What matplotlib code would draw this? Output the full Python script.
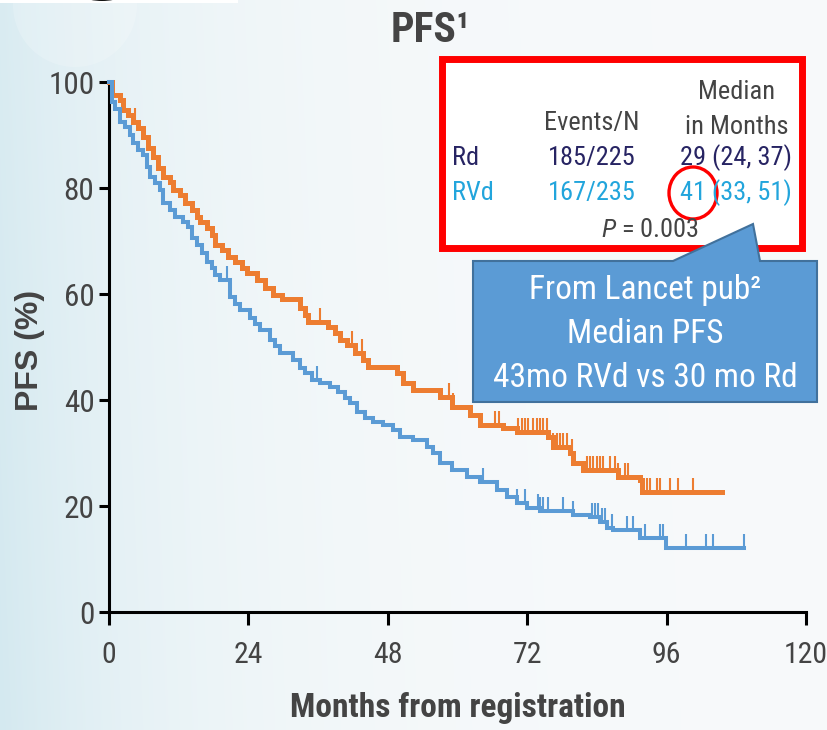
import numpy as np
import matplotlib
matplotlib.use("Agg")
import matplotlib.pyplot as plt
from matplotlib.patches import Rectangle, Polygon, Ellipse, Circle

NARROW = ["Roboto Condensed", "Liberation Sans Narrow", "Liberation Sans", "DejaVu Sans"]
plt.rcParams["font.family"] = NARROW
plt.rcParams["font.stretch"] = "condensed"
plt.rcParams["mathtext.fontset"] = "custom"
plt.rcParams["mathtext.rm"] = "Roboto Condensed"
plt.rcParams["mathtext.it"] = "Roboto Condensed:italic"

# ---- Kaplan-Meier step data (months, % progression-free) ----
rvd_t = [0, 0.5, 1.9, 2.4, 3.3, 4.1, 5.0, 5.9, 6.7, 7.6, 8.4, 9.3, 10.5, 11.0, 12.2,
         13.1, 14.3, 15.1, 15.7, 16.9, 17.7, 18.3, 19.5, 20.5, 21.7, 22.9, 23.8,
         25.5, 26.9, 28.2, 29.8, 32.9, 33.7, 34.3, 37.7, 38.9, 39.8, 40.9, 42.4,
         43.7, 44.6, 49.6, 50.6, 52.3, 57.0, 59.1, 62.2, 63.9, 67.8, 70.2, 75.6,
         76.4, 79.4, 79.9, 81.6, 87.6, 91.4, 91.8]
rvd_s = [100, 97.5, 96.6, 94.7, 93.8, 92.5, 91.3, 89.6, 87.5, 85.8, 83.8, 82.1, 81.1,
         79.6, 78.7, 77.2, 75.8, 74.5, 73.6, 72.4, 71.1, 69.2, 68.3, 67.0, 66.0, 64.9,
         64.0, 62.6, 61.1, 59.8, 59.1, 57.4, 56.0, 54.7, 53.8, 52.6, 51.3, 50.4, 48.9,
         47.5, 46.2, 45.1, 43.2, 41.9, 40.6, 38.7, 37.2, 35.3, 34.7, 34.0, 33.0, 31.1,
         30.0, 28.1, 26.8, 25.5, 24.9, 22.6]
rvd_end = 105.6
rvd_cens = [4.5, 36.3, 41.8, 43.6, 58.5, 59.2, 66.5, 67.1, 70.4, 71.1, 71.6, 72.1, 73.0,
            73.7, 74.2, 74.7, 75.4, 76.4, 77.1, 77.7, 78.2, 78.9, 79.7, 82.3, 82.8, 83.3,
            84.0, 84.5, 85.1, 86.3, 87.1, 87.6, 88.8, 89.4, 92.6, 93.1, 94.4, 94.9, 96.6,
            98.0, 100.6]

rd_t = [0, 0.5, 1.0, 1.9, 2.8, 3.6, 4.1, 5.0, 5.9, 6.5, 7.1, 7.9, 8.8, 9.3, 10.5, 11.4,
        12.7, 13.6, 14.3, 15.1, 16.0, 16.9, 17.7, 18.3, 19.1, 20.8, 21.7, 22.6, 24.3,
        25.2, 26.0, 27.7, 28.5, 29.4, 31.7, 32.9, 33.7, 35.0, 36.3, 38.1, 39.4, 40.6,
        41.5, 42.7, 44.1, 45.5, 47.2, 48.9, 50.1, 52.3, 54.8, 55.8, 57.0, 59.1, 61.6,
        63.9, 66.8, 68.5, 70.2, 72.0, 74.2, 79.9, 82.8, 84.5, 85.7, 86.8, 91.4, 95.9]
rd_s = [100, 96.2, 95.0, 92.5, 91.5, 90.0, 88.5, 87.2, 86.2, 84.0, 82.1, 80.9, 79.6, 77.2,
        75.8, 74.5, 73.6, 72.6, 70.6, 69.2, 67.7, 66.0, 64.9, 63.6, 62.6, 59.4, 58.2,
        57.0, 55.5, 54.3, 53.2, 51.3, 50.2, 48.9, 47.5, 46.0, 45.1, 43.8, 43.2, 42.5,
        41.5, 40.4, 39.4, 37.7, 36.6, 35.8, 35.3, 34.3, 33.0, 32.5, 31.1, 30.0, 28.1,
        26.8, 25.5, 24.5, 23.0, 21.7, 20.6, 19.6, 19.1, 18.3, 17.9, 17.0, 15.8, 15.5,
        14.0, 12.1]
rd_end = 109.3
rd_cens = [20.3, 35.8, 64.4, 70.2, 71.6, 73.9, 74.2, 74.7, 75.6, 78.2, 79.9, 83.2, 83.7,
           84.2, 84.9, 85.4, 86.6, 89.2, 90.2, 92.3, 94.9, 95.4, 99.3, 102.8, 104.0, 109.3]

x_ticks = [0, 24, 48, 72, 96, 120]
y_ticks = [0, 20, 40, 60, 80, 100]

ORANGE = "#ED7D31"
BLUE = "#5B9BD5"
GREY = "#444444"
NAVY = "#272463"
CYAN = "#22A5DC"

W, H = 827, 730
fig = plt.figure(figsize=(W / 100, H / 100), dpi=100)

# ---- soft slide background ----
bg = fig.add_axes([0, 0, 1, 1], zorder=0)
xx, yy = np.meshgrid(np.arange(W), np.arange(H))
left = np.array([212, 233, 240]) / 255.0
right = np.array([248, 250, 251]) / 255.0
w = np.exp(-xx / 190.0) * (0.85 + 0.15 * (yy / H))
img = right[None, None, :] * (1 - w[..., None]) + left[None, None, :] * w[..., None]
bg.imshow(img, extent=[0, W, H, 0], aspect="auto", interpolation="bilinear")
bg.add_patch(Circle((75, 5), 62, fc="white", ec="none", alpha=0.18))
bg.add_patch(Rectangle((0, 0), 238, 2.5, fc="white", ec="none"))
bg.add_patch(Ellipse((102, -14), 60, 30, fc="#111111", ec="none"))
bg.set_xlim(0, W)
bg.set_ylim(H, 0)
bg.axis("off")

# ---- survival plot ----
ax = fig.add_axes([109 / W, 1 - 612 / H, 697 / W, 530 / H], zorder=1)
ax.patch.set_visible(False)


def km(ax, t, s, end, cens, color, lw, tick_h=2.6):
    tt = list(t) + [end]
    ss = list(s) + [s[-1]]
    ax.step(tt, ss, where="post", color=color, lw=lw, solid_joinstyle="miter",
            clip_on=False, zorder=3)
    ta = np.asarray(t)
    sa = np.asarray(s)
    ct = np.asarray(cens)
    lev = sa[np.searchsorted(ta, ct, side="right") - 1]
    ax.vlines(ct, lev, lev + tick_h, color=color, lw=1.5, zorder=3, clip_on=False)


km(ax, rvd_t, rvd_s, rvd_end, rvd_cens, ORANGE, 3.6)
km(ax, rd_t, rd_s, rd_end, rd_cens, BLUE, 2.9)

ax.set_xlim(0, 120)
ax.set_ylim(0, 100)
ax.set_xticks(x_ticks)
ax.set_yticks(y_ticks)
for sp in ("top", "right"):
    ax.spines[sp].set_visible(False)
for sp in ("left", "bottom"):
    ax.spines[sp].set_linewidth(2.2)
    ax.spines[sp].set_color("black")
ax.tick_params(axis="x", direction="out", length=9, width=2.2, pad=12,
               labelsize=21.5, labelcolor=GREY)
ax.tick_params(axis="y", direction="out", length=7.5, width=2.2, pad=3,
               labelsize=22.5, labelcolor=GREY)

ax.set_xlabel("Months from registration", fontsize=24, fontweight="bold",
              color=GREY, va="center")
ax.xaxis.set_label_coords(0.5, -0.181)
ax.set_ylabel("PFS (%)", fontsize=23, fontweight="bold", color=GREY,
              va="center", family=["Liberation Sans", "DejaVu Sans"])
ax.yaxis.set_label_coords(-0.113, 0.494)

fig.text(430 / W, 1 - 30 / H, "PFS\u00b9", fontsize=30, fontweight="bold",
         color=GREY, ha="center", va="center")

# ---- summary table and callout ----
ov = fig.add_axes([0, 0, 1, 1], zorder=2)
ov.set_xlim(0, W)
ov.set_ylim(H, 0)
ov.axis("off")

ov.add_patch(Rectangle((441.5, 58.5), 360, 189, fc="white", ec="#FF0000", lw=5))

tk = dict(fontsize=19, va="center")
ov.text(737, 92, "Median", ha="center", color=GREY, **tk)
ov.text(737, 127, "in Months", ha="center", color=GREY, **tk)
ov.text(592, 123, "Events/N", ha="center", color=GREY, **tk)
ov.text(452, 158, "Rd", ha="left", color=NAVY, **tk)
ov.text(592, 158, "185/225", ha="center", color=NAVY, **tk)
ov.text(736, 158, "29 (24, 37)", ha="center", color=NAVY, **tk)
ov.text(452, 193, "RVd", ha="left", color=CYAN, **tk)
ov.text(592, 193, "167/235", ha="center", color=CYAN, **tk)
ov.text(736, 193, "41 (33, 51)", ha="center", color=CYAN, **tk)
ov.text(650, 230, "$P$ = 0.003", ha="center", color=GREY, **tk)
ov.add_patch(Ellipse((693, 193), 48, 52, fc="none", ec="#FF0000", lw=2.4))

callout = [(473, 261), (673, 261), (753, 224), (760, 261), (817, 261),
           (817, 402), (473, 402)]
ov.add_patch(Polygon(callout, closed=True, fc="#5B9BD5", ec="#41719C", lw=1.5))
ck = dict(fontsize=24, color="white", ha="center", va="center")
ov.text(645, 290, "From Lancet pub\u00b2", **ck)
ov.text(645, 334, "Median PFS", **ck)
ov.text(645, 378, "43mo RVd vs 30 mo Rd", **ck)

fig.savefig("out.png", dpi=100)
